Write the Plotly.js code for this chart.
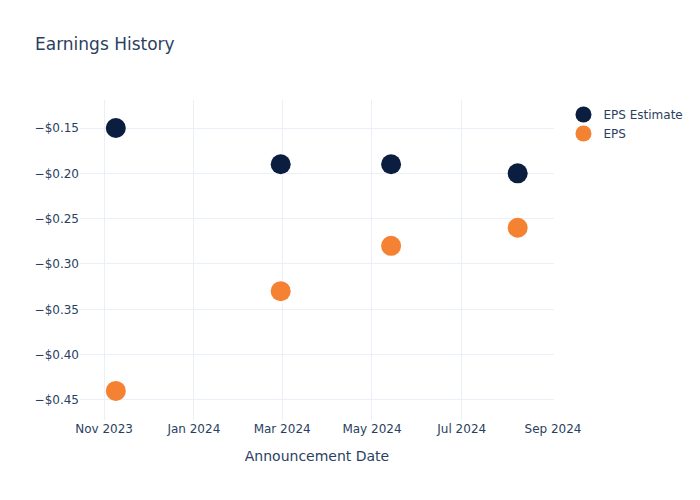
<!DOCTYPE html>
<html>
<head>
<meta charset="utf-8">
<script src="https://cdn.plot.ly/plotly-3.0.1.min.js"></script>
<style>html,body{margin:0;padding:0;background:#fff}</style>
</head>
<body>
<div id="chart" style="width:700px;height:500px"></div>
<script>
const dates = ['2023-11-09', '2024-02-29', '2024-05-14', '2024-08-08'];
const epsEstimate = [-0.15, -0.19, -0.19, -0.20];
const eps = [-0.44, -0.33, -0.28, -0.26];
const seriesNames = ['EPS Estimate', 'EPS'];

const font = 'DejaVu Sans, Verdana, sans-serif';
const data = [
  {x: dates, y: epsEstimate, name: seriesNames[0], type: 'scatter', mode: 'markers',
   marker: {size: 20, color: '#0b1e40'}},
  {x: dates, y: eps, name: seriesNames[1], type: 'scatter', mode: 'markers',
   marker: {size: 20, color: '#f58232'}}
];
const layout = {
  width: 700, height: 500,
  font: {family: font, color: '#2a3f5f', size: 12},
  title: {text: 'Earnings History', x: 0.05, font: {size: 17, family: font, color: '#2a3f5f'}},
  paper_bgcolor: '#fff', plot_bgcolor: '#fff',
  margin: {t: 100, b: 80, l: 80, r: 146},
  xaxis: {
    title: {text: 'Announcement Date', font: {size: 14}, standoff: 16},
    type: 'date', range: ['2023-10-15 16:00', '2024-09-01 16:00'],
    dtick: 'M2', tick0: '2023-11-01', tickformat: '%b %Y',
    gridcolor: '#EBF0F8', zeroline: false, showline: false
  },
  yaxis: {
    range: [-0.4721, -0.1191], dtick: 0.05, tick0: 0, tickformat: '$.2f',
    gridcolor: '#EBF0F8', zeroline: false, showline: false
  },
  legend: {x: 1.02, y: 1, font: {size: 12}},
  showlegend: true
};
Plotly.newPlot('chart', data, layout, {displayModeBar: false});
</script>
</body>
</html>
